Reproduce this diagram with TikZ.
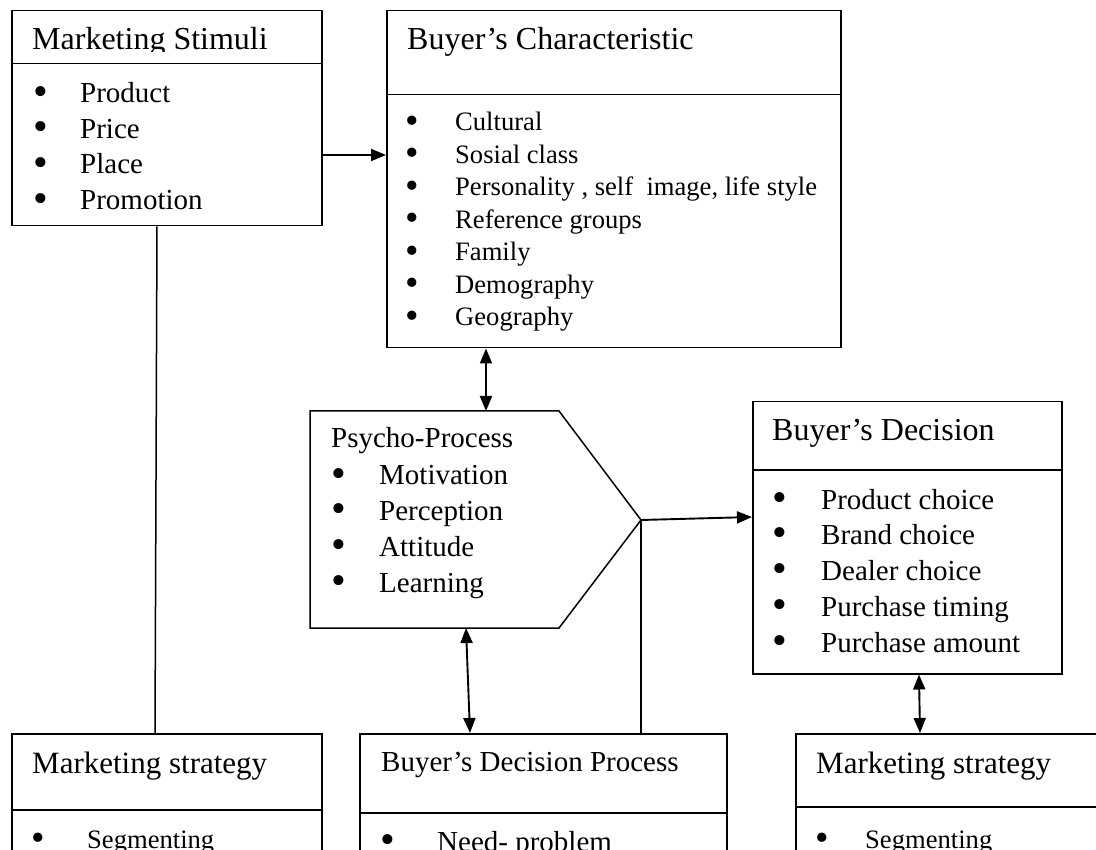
\documentclass[tikz,border=0pt]{standalone}
\usepackage{fontspec}
\usepackage{graphicx}
\setmainfont{Liberation Serif}
\usetikzlibrary{arrows.meta}
\newcommand{\bul}[1]{\makebox[#1pt][l]{\hspace{-2pt}\smash{\raisebox{-0.08em}{\scalebox{1.45}{\textbullet}}}}}

\begin{document}
\begin{tikzpicture}[x=1pt,y=-1pt,
  box/.style={draw,line width=1.5pt,inner sep=0pt,anchor=north west},
  ttl/.style={anchor=base west,inner sep=0pt,font=\fontsize{32}{36}\selectfont},
  ttls/.style={anchor=base west,inner sep=0pt,font=\fontsize{29}{34}\selectfont},
  itm/.style={anchor=base west,inner sep=0pt,font=\fontsize{29}{34}\selectfont},
  sitm/.style={anchor=base west,inner sep=0pt,font=\fontsize{26.6}{32}\selectfont},
  link/.style={line width=1.9pt,-{Triangle[length=15pt,width=12pt]}},
  both/.style={line width=1.9pt,{Triangle[length=15pt,width=12pt]}-{Triangle[length=15pt,width=12pt]}},
  wire/.style={line width=1.5pt}]
\useasboundingbox (0,0) rectangle (1096,850);
\clip (0,0) rectangle (1096,850);

% marketing stimuli
\node[box,minimum width=310,minimum height=53] (stimT) at (11,10) {};
\node[box,minimum width=310,minimum height=162] (stimB) at (11,63) {};
\begin{scope}
\clip (11,10) rectangle (321,52);
\node[ttl] (stimH) at (32,50) {Marketing Stimuli};
\end{scope}
\node[itm] (stim1) at (35,103) {\bul{45}Product};
\node[itm] (stim2) at (35,138.5) {\bul{45}Price};
\node[itm] (stim3) at (35,174) {\bul{45}Place};
\node[itm] (stim4) at (35,210) {\bul{45}Promotion};

% buyer's characteristic
\node[box,minimum width=454,minimum height=84] (bcT) at (386,10) {};
\node[box,minimum width=454,minimum height=253] (bcB) at (386,94) {};
\node[ttl] (bcH) at (407,50) {Buyer’s Characteristic};
\node[sitm] (bc1) at (407.5,131) {\bul{47.5}Cultural};
\node[sitm] (bc2) at (407.5,163.5) {\bul{47.5}Sosial class};
\node[sitm] (bc3) at (407.5,196) {\bul{47.5}Personality , self\ \ image, life style};
\node[sitm] (bc4) at (407.5,228.5) {\bul{47.5}Reference groups};
\node[sitm] (bc5) at (407.5,261) {\bul{47.5}Family};
\node[sitm] (bc6) at (407.5,293.5) {\bul{47.5}Demography};
\node[sitm] (bc7) at (407.5,326) {\bul{47.5}Geography};

% psycho-process
\coordinate (psyNW) at (310,411);
\coordinate (psyNE) at (559,411);
\coordinate (psyTip) at (641,520);
\coordinate (psySE) at (559,628);
\coordinate (psySW) at (310,628);
\draw[wire] (psyNW) -- (psyNE) -- (psyTip) -- (psySE) -- (psySW) -- cycle;
\node[ttls] (psyH) at (331,448) {Psycho-Process};
\node[itm] (psy1) at (333,485) {\bul{46}Motivation};
\node[itm] (psy2) at (333,520.5) {\bul{46}Perception};
\node[itm] (psy3) at (333,556) {\bul{46}Attitude};
\node[itm] (psy4) at (333,592) {\bul{46}Learning};

% buyer's decision
\node[box,minimum width=309,minimum height=68] (bdT) at (752,401) {};
\node[box,minimum width=309,minimum height=204] (bdB) at (752,469) {};
\node[ttl] (bdH) at (772,441) {Buyer’s Decision};
\node[itm] (bd1) at (774,509) {\bul{47}Product choice};
\node[itm] (bd2) at (774,544.5) {\bul{47}Brand choice};
\node[itm] (bd3) at (774,580.5) {\bul{47}Dealer choice};
\node[itm] (bd4) at (774,616) {\bul{47}Purchase timing};
\node[itm] (bd5) at (774,652) {\bul{47}Purchase amount};

% bottom row
\node[box,minimum width=310,minimum height=76] (ms2T) at (11,733) {};
\node[box,minimum width=310,minimum height=100] (ms2B) at (11,809) {};
\node[ttl,font=\fontsize{31}{36}\selectfont] (ms2H) at (32,773) {Marketing strategy};
\node[sitm] (ms2a) at (33.5,848) {\bul{53.5}Segmenting};

\node[box,minimum width=367,minimum height=79] (bdpT) at (359,733) {};
\node[box,minimum width=367,minimum height=100] (bdpB) at (359,812) {};
\node[ttls] (bdpH) at (381,771) {Buyer’s Decision Process};
\node[itm] (bdpa) at (382.5,851) {\bul{54.5}Need- problem};

\node[box,minimum width=350,minimum height=73] (ms3T) at (795,733) {};
\node[box,minimum width=350,minimum height=100] (ms3B) at (795,806) {};
\node[ttl,font=\fontsize{31}{36}\selectfont] (ms3H) at (816,773) {Marketing strategy};
\node[sitm] (ms3a) at (817.5,848) {\bul{47.5}Segmenting};

% connectors
\draw[link] (stimB.east |- 0,155) -- (bcB.west |- 0,155);
\draw[both] (bcB.south -| 486,0) -- (psyNW -| 486,0);
\draw[link] (psyTip) -- (bdB.west |- 0,517);
\draw[wire] (psyTip) -- (psyTip |- bdpT.north);
\draw[both] (psySW -| 466,0) -- (bdpT.north -| 470,0);
\draw[both] (bdB.south -| 919,0) -- (ms3T.north -| 920,0);
\draw[wire] (stimB.south -| 157,0) -- (ms2T.north -| 155,0);
\end{tikzpicture}
\end{document}
